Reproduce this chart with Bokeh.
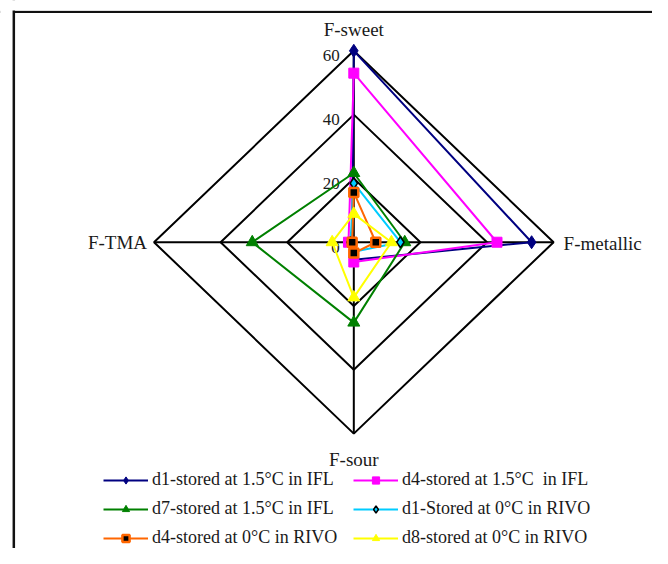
from bokeh.plotting import figure
from bokeh.models import Range1d, Legend, LegendItem, ColumnDataSource, Span, BoxAnnotation
from bokeh.core.properties import value
from bokeh.embed import file_html
from bokeh.resources import INLINE

# ---------------- data ----------------
categories = ["F-sweet", "F-metallic", "F-sour", "F-TMA"]
ticks = [0, 20, 40, 60]
tick_labels = ["0", "20", "40", "60"]
r_max = 60

series_names = [
    "d1-stored at 1.5°C in IFL",
    "d4-stored at 1.5°C  in IFL",
    "d7-stored at 1.5°C in IFL",
    "d1-Stored at 0°C in RIVO",
    "d4-stored at 0°C in RIVO",
    "d8-stored at 0°C in RIVO",
]
d1_ifl = [60.0, 53.4, 5.5, 0.5]
d4_ifl = [53.0, 43.0, 6.2, 1.6]
d7_ifl = [21.7, 15.3, 25.2, 30.5]
d1_rivo = [18.5, 14.0, 3.0, 1.0]
d4_rivo = [15.6, 6.6, 3.4, 0.5]
d8_rivo = [8.9, 11.3, 17.3, 6.5]
series_values = [d1_ifl, d4_ifl, d7_ifl, d1_rivo, d4_rivo, d8_rivo]

# ---------------- styles ----------------
# spoke directions (top, right, bottom, left)
dirs = [(0, 1), (1, 0), (0, -1), (-1, 0)]
line_colors = ["#000080", "#FF00FF", "#008000", "#00CCFF", "#FF6600", "#FFFF00"]
markers = ["diamond", "square", "triangle", "diamond", "square", "triangle"]
m_fill = ["#000080", "#FF00FF", "#008000", "#00CCFF", "#000000", "#FFFF00"]
m_line = ["#000080", "#FF00FF", "#008000", "#000000", "#FF6600", "#FFFF00"]
m_lw = [1, 1, 1, 1.5, 2.5, 1]
m_size = [13, 10, 12, 11, 9, 12]

SERIF = "Liberation Serif"
TXT = "#1a1a1a"

X0, X1 = -106.1, 89.7
Y0, Y1 = -96.0, 75.77
p = figure(width=652, height=548, output_backend="svg", toolbar_location=None,
           x_range=Range1d(X0, X1), y_range=Range1d(Y0, Y1),
           x_axis_location=None, y_axis_location=None, min_border=0,
           outline_line_color=None, background_fill_color="white",
           border_fill_color="white")
p.grid.visible = False

# outer chart frame (left & top edges visible in the crop)
FL, FT = -102.1, 72.2
p.add_layout(Span(location=FT, dimension="width", line_color="#111111", line_width=2.2))
p.add_layout(BoxAnnotation(left=X0 - 5, right=FL, bottom=FT - 2, top=Y1 + 5,
                           fill_color="white", fill_alpha=1.0, line_alpha=0))
p.add_layout(Span(location=FL, dimension="height", line_color="#111111", line_width=2.5))
p.add_layout(BoxAnnotation(left=X0 - 5, right=X1 + 5, bottom=FT + 0.4, top=Y1 + 5,
                           fill_color="white", fill_alpha=1.0, line_alpha=0))

# grid rings (diamonds)
ring_xs, ring_ys = [], []
for t in ticks[1:]:
    ring_xs.append([dx * t for dx, dy in dirs] + [dirs[0][0] * t])
    ring_ys.append([dy * t for dx, dy in dirs] + [dirs[0][1] * t])
p.multi_line(xs=ring_xs, ys=ring_ys, line_color="black", line_width=2)

# spokes
p.segment(x0=[0] * 4, y0=[0] * 4, x1=[dx * r_max for dx, dy in dirs],
          y1=[dy * r_max for dx, dy in dirs], line_color="black", line_width=2)

# tick labels along the top spoke
p.text(x=[0] * len(ticks), y=ticks, text=tick_labels, x_offset=-14, y_offset=5,
       text_align="right", text_baseline="middle", text_font=value(SERIF),
       text_font_size="17px", text_color=TXT)

# category labels
cat_offx = [0, 10, 0, -7]
cat_offy = [-21, 1, 26, 0]
cat_align = ["center", "left", "center", "right"]
cat_src = ColumnDataSource(dict(
    x=[dx * r_max for dx, dy in dirs], y=[dy * r_max for dx, dy in dirs],
    text=categories, xo=cat_offx, yo=cat_offy, al=cat_align))
p.text(x="x", y="y", text="text", x_offset="xo", y_offset="yo", text_align="al",
       text_baseline="middle", text_font=value(SERIF), text_font_size="19px",
       text_color=TXT, source=cat_src)

# series
items = []
for name, vals, lc, mk, mf, ml, mw, ms in zip(series_names, series_values, line_colors,
                                               markers, m_fill, m_line, m_lw, m_size):
    xs = [dx * v for (dx, dy), v in zip(dirs, vals)]
    ys = [dy * v for (dx, dy), v in zip(dirs, vals)]
    lr = p.line(x=xs + [xs[0]], y=ys + [ys[0]], line_color=lc, line_width=2)
    sr = p.scatter(x=xs, y=ys, marker=mk, size=ms, fill_color=mf, line_color=ml,
                   line_width=mw)
    items.append(LegendItem(label=name, renderers=[lr, sr]))

legend = Legend(items=items, orientation="horizontal", ncols=2,
                location=(103, 0), glyph_width=45, glyph_height=18, label_height=18,
                label_width=193, label_standoff=4, spacing=8, padding=0, margin=0,
                label_text_font=SERIF, label_text_font_size="18px",
                label_text_color=TXT, border_line_alpha=0, background_fill_alpha=0)
p.add_layout(legend)

open("out.html", "w").write(file_html(p, INLINE))
